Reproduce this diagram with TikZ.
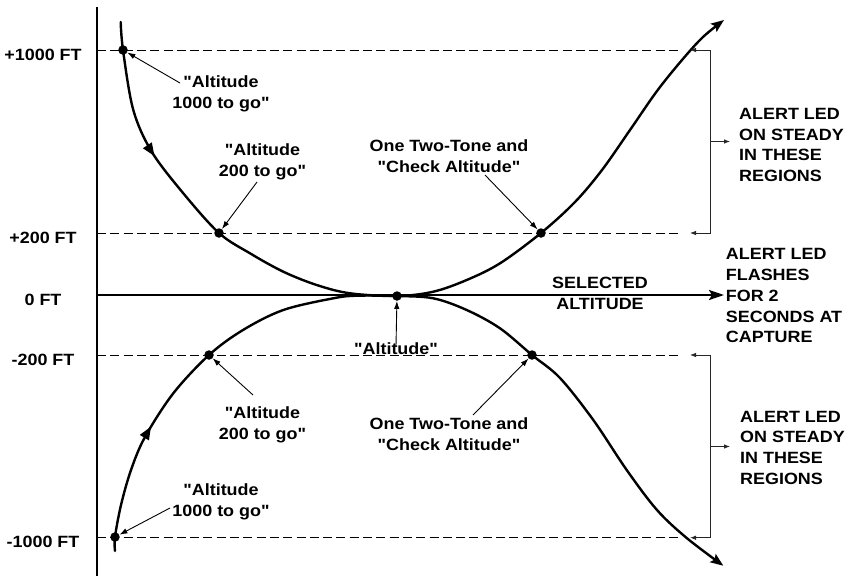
\documentclass[tikz,border=0pt]{standalone}
\usepackage{fontspec}
\newfontfamily\arialb[FakeStretch=1.1]{Liberation Sans}
\usetikzlibrary{arrows.meta,decorations.markings}

\tikzset{
  lbl/.style={font=\arialb\fontsize{16.3}{21}\selectfont\bfseries, align=center, inner sep=0pt},
  led/.style={font=\arialb\fontsize{16.3}{20.8}\selectfont\bfseries, align=left, anchor=west, inner ysep=0pt},
  guide/.style={line width=0.9pt, dash pattern=on 9pt off 4.3pt},
  track/.style={line width=2.4pt, line join=round, line cap=round},
  note/.style={line width=0.9pt, -{Latex[length=8pt,width=5.5pt]}},
  brk/.style={line width=0.8pt, black!85},
  dot/.style={circle, fill, inner sep=0pt, minimum size=9.5pt},
}

\begin{document}
\begin{tikzpicture}[x=1pt,y=-1pt]
\useasboundingbox (0,0) rectangle (851,576);

% altitude scale
\foreach \y/\t [count=\i] in {50/+1000 FT, 233/+200 FT, 295/0 FT, 355/-200 FT, 537/-1000 FT}
  \node[lbl] (ft\i) at (43,\y+4.5) {\t};
\foreach \y in {50,233,355,537}
  \draw[guide] (97,\y) -- (682,\y);

\draw[line width=2.8pt] (97,7) -- (97,576);

% selected altitude
\coordinate (o) at (97,295);
\node[led, inner xsep=1.7pt] (ledmid) at (724,295.8)
  {ALERT LED\\FLASHES\\FOR 2\\SECONDS AT\\CAPTURE};
\draw[line width=2.3pt, -{Stealth[length=15pt,width=10pt,inset=3pt]}] (o) -- (o -| ledmid.west);
\node[lbl] (sel) at (600,293.6) {SELECTED\\ALTITUDE};

% descending from above
\draw[track, -{Stealth[length=13pt,width=10pt,inset=2.5pt]},
  postaction={decorate},
  decoration={markings, mark=at position 140pt with {\arrow{Triangle[length=13pt,width=10pt]}}}]
  plot[smooth, tension=0.55] coordinates {(120.7,22) (123,50) (133.3,110) (151.7,151.7)
    (183.3,193.3) (219,233) (250,253.3) (283.3,271.7) (316.7,285) (350,293.3) (397,296)
    (433.3,291.7) (466.7,280) (500,263.3) (541,233) (575,202) (602,170) (630,130)
    (657,91) (682,60) (703,37) (724,20)};

% climbing from below
\draw[track, -{Stealth[length=13pt,width=10pt,inset=2.5pt]},
  postaction={decorate},
  decoration={markings, mark=at position 131pt with {\arrow{Triangle[length=13pt,width=10pt]}}}]
  plot[smooth, tension=0.55] coordinates {(115,551) (115,537) (121,505) (131,470) (145,437)
    (173.3,393.3) (209,355) (243,330) (283.3,310) (333.3,298.3) (356.7,295.7) (397,296)
    (433.3,298.3) (466.7,310) (500,328.3) (532,355) (560,378) (593.3,420) (626.7,470)
    (657,510) (686.7,538) (723.3,565.7)};

% callout points
\node[dot] (d1) at (123,50) {};
\node[dot] (d2) at (219,233) {};
\node[dot] (d3) at (541,233) {};
\node[dot] (d4) at (397,296) {};
\node[dot] (d5) at (532,355) {};
\node[dot] (d6) at (209,355) {};
\node[dot] (d7) at (115,537) {};

% callouts
\node[lbl] (c1) at (221,93.6) {"Altitude\\1000 to go"};
\node[lbl] (c2) at (262.5,161.6) {"Altitude\\200 to go"};
\node[lbl] (c3) at (449,156.2) {One Two-Tone and\\"Check Altitude"};
\node[lbl] (c4) at (396,349) {"Altitude"};
\node[lbl] (c5) at (449,434.4) {One Two-Tone and\\"Check Altitude"};
\node[lbl] (c6) at (262.5,424.9) {"Altitude\\200 to go"};
\node[lbl] (c7) at (221,501.6) {"Altitude\\1000 to go"};

\coordinate (t1) at (180,83);
\coordinate (t2) at (257,182);
\coordinate (t3) at (485,175);
\coordinate (t5) at (473,415);
\coordinate (t6) at (253,395);
\coordinate (t7) at (170,508);

\draw[note] (t1) -- (d1);
\draw[note] (t2) -- (d2);
\draw[note] (t3) -- (d3);
\draw[note] ([yshift=-3pt]c4.north) -- (d4);
\draw[note] (t5) -- (d5);
\draw[note] (t6) -- (d6);
\draw[note] (t7) -- (d7);

% steady regions
\node[led, inner xsep=9pt] (ledtop) at (730,145) {ALERT LED\\ON STEADY\\IN THESE\\REGIONS};
\node[led, inner xsep=10pt] (ledbot) at (730,447.8) {ALERT LED\\ON STEADY\\IN THESE\\REGIONS};

\draw[brk, {Latex[length=6pt,width=4.5pt]}-{Latex[length=6pt,width=4.5pt]}]
  (690,50) -- (710,50) -- (710,233) -- (690,233);
\coordinate (m1) at (710,141.5);
\draw[brk, -{Latex[length=6pt,width=4.5pt]}] (m1) -- (m1 -| ledtop.west);

\draw[brk, {Latex[length=6pt,width=4.5pt]}-{Latex[length=6pt,width=4.5pt]}]
  (690,355) -- (710,355) -- (710,537.7) -- (690,537.7);
\coordinate (m2) at (710,446.5);
\draw[brk, -{Latex[length=6pt,width=4.5pt]}] (m2) -- (m2 -| ledbot.west);
\end{tikzpicture}
\end{document}
